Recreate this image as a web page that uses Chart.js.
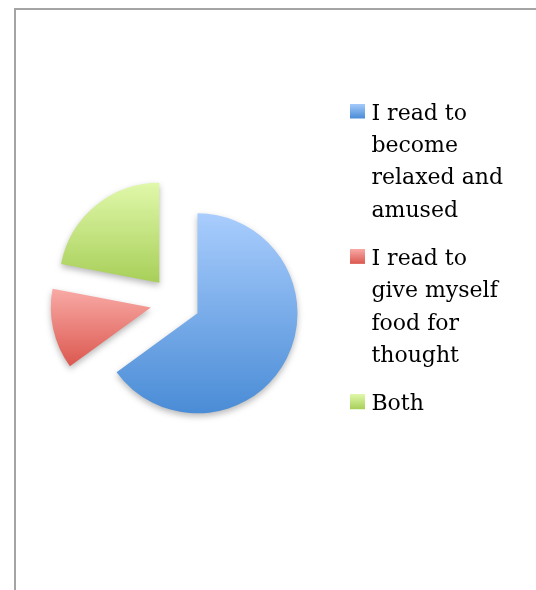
<!DOCTYPE html>
<html>
<head>
<meta charset="utf-8">
<script src="https://cdn.jsdelivr.net/npm/chart.js@4/dist/chart.umd.min.js"></script>
<style>
  html, body { margin: 0; padding: 0; background: #fff; width: 536px; height: 590px; overflow: hidden; }
  #frame { position: absolute; left: 14px; top: 8px; width: 700px; height: 800px;
           border-top: 2px solid #a4a4a4; border-left: 2px solid #a4a4a4; box-sizing: border-box; }
  #chart { position: absolute; left: 0; top: 0; }
</style>
</head>
<body>
<div id="frame"></div>
<canvas id="chart" width="536" height="590"></canvas>
<script>
// Reading motives survey: share of answers
const categories = [
  ['I read to', 'become', 'relaxed and', 'amused'],
  ['I read to', 'give myself', 'food for', 'thought'],
  ['Both']
];
const values = [65, 13, 22];

// light (top) and dark (bottom) gradient stops per slice
const topColors = ['#a9cdfd', '#f9aaa6', '#e0f8aa'];
const bottomColors = ['#4a8cd6', '#db584f', '#a8cf59'];

const EXPLODE = 25;   // distance each slice is pulled out from the centre
const SWATCH = 15;    // legend swatch size
const SWATCH_LIFT = 3; // raise swatch slightly above the text's middle line

function swatch(i) {
  const c = document.createElement('canvas');
  c.width = SWATCH; c.height = SWATCH + 2 * SWATCH_LIFT;
  const g = c.getContext('2d');
  const grad = g.createLinearGradient(0, 0, 0, SWATCH);
  grad.addColorStop(0, topColors[i]);
  grad.addColorStop(1, bottomColors[i]);
  g.fillStyle = grad;
  g.fillRect(0, 0, SWATCH, SWATCH);
  return c;
}

// vertical extent of a sector, used for its gradient
function sectorSpan(x, y, r, a0, a1) {
  let lo = y, hi = y;
  const pts = [a0, a1];
  for (let k = -4; k <= 8; k++) {
    const a = k * Math.PI / 2;
    if (a > a0 && a < a1) pts.push(a);
  }
  pts.forEach(a => {
    const py = y + Math.sin(a) * r;
    lo = Math.min(lo, py); hi = Math.max(hi, py);
  });
  return [lo, hi];
}

const explodePlugin = {
  id: 'explodeSlices',
  afterDatasetsUpdate(chart) {
    const ctx = chart.ctx;
    chart.getDatasetMeta(0).data.forEach((arc, i) => {
      const mid = (arc.startAngle + arc.endAngle) / 2;
      arc.x += Math.cos(mid) * EXPLODE;
      arc.y += Math.sin(mid) * EXPLODE;
      const [lo, hi] = sectorSpan(arc.x, arc.y, arc.outerRadius, arc.startAngle, arc.endAngle);
      const grad = ctx.createLinearGradient(0, lo, 0, hi);
      grad.addColorStop(0, topColors[i]);
      grad.addColorStop(1, bottomColors[i]);
      arc.options = Object.assign({}, arc.options, { backgroundColor: grad });
    });
  },
  beforeDatasetsDraw(chart) {
    const ctx = chart.ctx;
    ctx.save();
    ctx.shadowColor = 'rgba(0,0,0,0.28)';
    ctx.shadowBlur = 6;
    ctx.shadowOffsetX = 0;
    ctx.shadowOffsetY = 3;
  },
  afterDatasetsDraw(chart) {
    chart.ctx.restore();
  }
};

new Chart(document.getElementById('chart'), {
  type: 'pie',
  data: {
    labels: categories,
    datasets: [{
      data: values,
      backgroundColor: bottomColors,
      borderWidth: 0,
      radius: 100,
      clip: false
    }]
  },
  options: {
    responsive: false,
    animation: false,
    events: [],
    layout: { padding: { top: 87, bottom: 73, left: 11, right: 23 } },
    plugins: {
      tooltip: { enabled: false },
      legend: {
        position: 'right',
        align: 'start',
        labels: {
          usePointStyle: true,
          pointStyleWidth: 5,
          padding: 16,
          color: '#000',
          font: { family: 'DejaVu Serif', size: 22, lineHeight: 1.47 },
          generateLabels(chart) {
            const base = Chart.controllers.pie.overrides.plugins.legend.labels.generateLabels(chart);
            return base.map((item, i) => Object.assign(item, { pointStyle: swatch(i), lineWidth: 0 }));
          }
        }
      }
    }
  },
  plugins: [explodePlugin]
});
</script>
</body>
</html>
